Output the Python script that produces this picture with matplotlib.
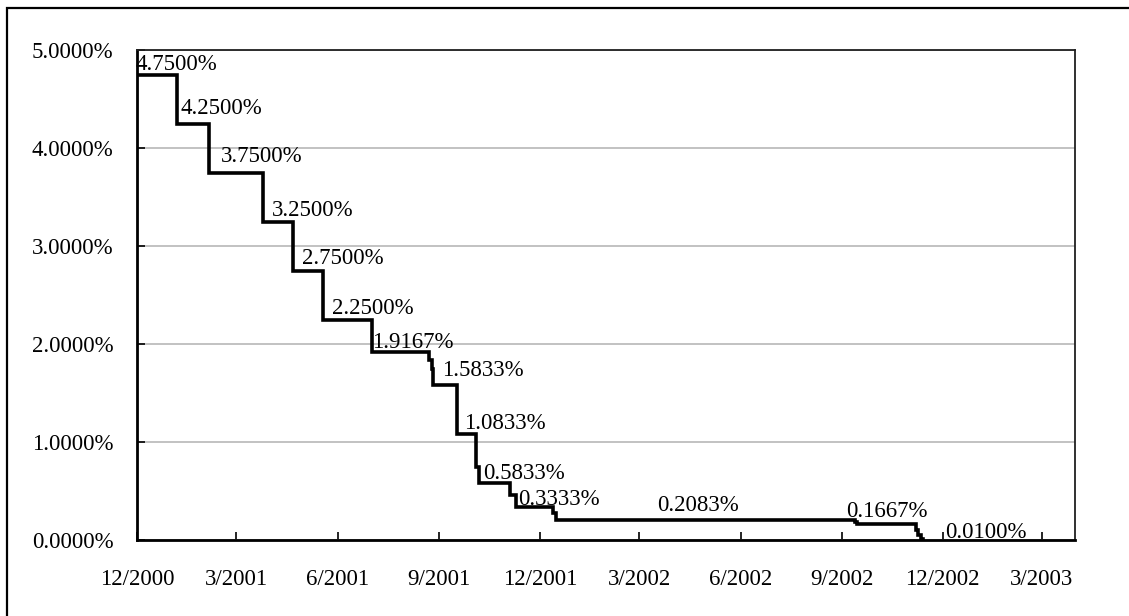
import matplotlib
matplotlib.use("Agg")
import matplotlib.pyplot as plt
import matplotlib.dates as mdates
from matplotlib.patches import Rectangle
from matplotlib.ticker import FuncFormatter, MultipleLocator
import numpy as np
import pandas as pd

# ---- data ----
rate_dates = ["2000-12-01", "2001-01-06", "2001-02-04", "2001-03-25", "2001-04-21",
              "2001-05-19", "2001-07-02", "2001-08-23", "2001-08-25", "2001-08-26",
              "2001-09-17", "2001-10-04", "2001-10-07", "2001-11-04", "2001-11-09",
              "2001-12-13", "2001-12-16", "2002-09-13", "2002-09-14", "2002-11-07",
              "2002-11-09", "2002-11-11", "2002-11-13"]
rate_values = [4.75, 4.25, 3.75, 3.25, 2.75,
               2.25, 1.9167, 1.8333, 1.75, 1.5833,
               1.0833, 0.75, 0.5833, 0.4583, 0.3333,
               0.2708, 0.2083, 0.1875, 0.1667, 0.10,
               0.05, 0.01, 0.01]
labeled_rates = [4.75, 4.25, 3.75, 3.25, 2.75, 2.25, 1.9167, 1.5833, 1.0833,
                 0.5833, 0.3333, 0.2083, 0.1667, 0.01]
x_tick_dates = ["2000-12-01", "2001-03-01", "2001-06-01", "2001-09-01", "2001-12-01",
                "2002-03-01", "2002-06-01", "2002-09-01", "2002-12-01", "2003-03-01"]
x_tick_labels = ["12/2000", "3/2001", "6/2001", "9/2001", "12/2001",
                 "3/2002", "6/2002", "9/2002", "12/2002", "3/2003"]

# label offsets (pixels, right / up) relative to each labelled step start (baseline)
label_offsets = [(-2, 5), (4, 9), (12, 10), (9, 6), (9, 6), (9, 6), (0, 4.5),
                 (9, 8.5), (7, 4.5), (4.5, 3.5), (3, 2.5), (101, 9), (-10, 6.5),
                 (25, 1.5)]

plt.rcParams['font.family'] = ['Liberation Serif', 'DejaVu Serif']
FS = 16.5

dates = pd.to_datetime(rate_dates)
fig = plt.figure(figsize=(11.29, 6.16), dpi=100)
ax = fig.add_axes([137/1129, 1-540/616, (1075-137)/1129, (540-50)/616])

ax.step(dates, rate_values, where='post', color='black', lw=2.6, solid_joinstyle='miter')

for val, (dx, dy) in zip(labeled_rates, label_offsets):
    idx = rate_values.index(val)
    ax.annotate(f"{val:.4f}%", xy=(dates[idx], val), xytext=(dx, dy),
                textcoords='offset pixels', ha='left', va='baseline', fontsize=FS,
                color='black')

ax.set_xlim(pd.Timestamp("2000-12-01"), pd.Timestamp("2003-03-31"))
ax.set_ylim(0, 5)
ax.yaxis.set_major_locator(MultipleLocator(1))
ax.yaxis.set_major_formatter(FuncFormatter(lambda v, p: f"{v:.4f}%"))
ax.set_xticks(pd.to_datetime(x_tick_dates))
ax.set_xticklabels(x_tick_labels)
ax.grid(axis='y', color='#b8b8b8', lw=1.2)
ax.set_axisbelow(True)
ax.tick_params(axis='both', direction='in', length=6, width=1.2, labelsize=FS)
ax.tick_params(axis='x', pad=21)
ax.tick_params(axis='y', pad=17)
for s in ['left', 'bottom']:
    ax.spines[s].set_linewidth(2.0)
for s in ['top', 'right']:
    ax.spines[s].set_linewidth(1.3)
    ax.spines[s].set_color('#202020')

# outer chart-area border (extends past right and bottom of image)
fig.patches.append(Rectangle((7/1129, -0.2), 1.2, 1.2 - 8/616, transform=fig.transFigure,
                             fill=False, edgecolor='black', lw=1.6))

fig.savefig("out.png", dpi=100)
